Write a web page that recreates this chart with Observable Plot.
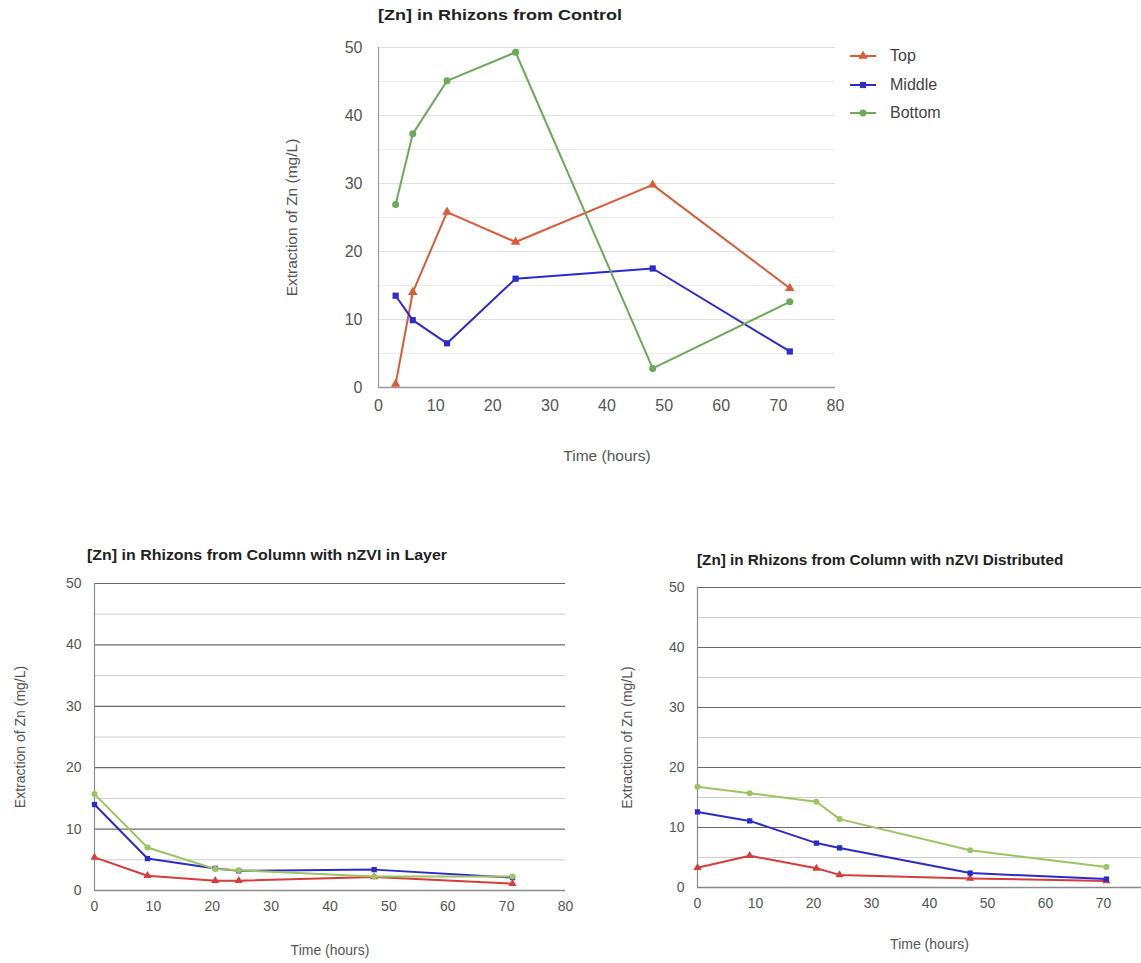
<!DOCTYPE html>
<html><head><meta charset="utf-8">
<script src="https://cdn.jsdelivr.net/npm/d3@7"></script>
<script src="https://cdn.jsdelivr.net/npm/@observablehq/plot@0.6"></script>
<style>
html,body{margin:0;padding:0;background:#fff;overflow:hidden;}
#root{position:relative;width:1141px;height:963px;overflow:hidden;font-family:"Liberation Sans",Arial,sans-serif;background:#fff;}
.panel{position:absolute;}
.title{position:absolute;font-weight:bold;color:#222;white-space:nowrap;transform-origin:0 50%;}
.legend{position:absolute;font-size:16px;color:#444;}
.legend div{height:28.5px;display:flex;align-items:center;}
.legend svg{margin-right:14px;}
</style></head><body><div id="root"></div>
<script>
const seriesNames = ["Top", "Middle", "Bottom"];
const controlTime = [3, 6, 12, 24, 48, 72];
const controlTop = [0.5, 14, 25.8, 21.4, 29.8, 14.6];
const controlMiddle = [13.5, 9.9, 6.5, 16, 17.5, 5.3];
const controlBottom = [26.9, 37.3, 45.1, 49.3, 2.8, 12.6];
const layerTime = [0, 9, 20.5, 24.5, 47.5, 71];
const layerTop = [5.4, 2.4, 1.6, 1.6, 2.2, 1.1];
const layerMiddle = [14.0, 5.2, 3.6, 3.2, 3.4, 2.1];
const layerBottom = [15.7, 7.0, 3.5, 3.3, 2.3, 2.3];
const distTime = [0, 9, 20.5, 24.5, 47, 70.5];
const distTop = [3.3, 5.3, 3.2, 2.1, 1.5, 1.1];
const distMiddle = [12.6, 11.1, 7.4, 6.6, 2.4, 1.4];
const distBottom = [16.8, 15.7, 14.3, 11.4, 6.2, 3.4];
const xTicks = [0, 10, 20, 30, 40, 50, 60, 70, 80];
const xTicksClipped = [0, 10, 20, 30, 40, 50, 60, 70];
const yTicks = [0, 10, 20, 30, 40, 50];
const yMinor = [5, 15, 25, 35, 45];
const titles = ["[Zn] in Rhizons from Control", "[Zn] in Rhizons from Column with nZVI in Layer", "[Zn] in Rhizons from Column with nZVI Distributed"];
const xLabel = "Time (hours)";
const yLabel = "Extraction of Zn (mg/L)";

function tidy(time, top, mid, bot) {
  const rows = [];
  [top, mid, bot].forEach((vals, i) => vals.forEach((v, j) => rows.push({series: seriesNames[i], t: time[j], v})));
  return rows;
}

const root = document.getElementById("root");

function panel(cfg) {
  const data = tidy(...cfg.data);
  const p = Plot.plot({
    width: cfg.width, height: cfg.height,
    marginLeft: cfg.ml, marginRight: cfg.mr, marginTop: cfg.mt, marginBottom: cfg.mb,
    style: {fontFamily: '"Liberation Sans", Arial, sans-serif', color: "#555", background: "transparent", overflow: "visible"},
    x: {domain: [0, 80]},
    y: {domain: [0, 50]},
    color: {domain: seriesNames, range: cfg.colors},
    symbol: {domain: seriesNames, range: ["triangle", "square", "circle"]},
    marks: [
      Plot.ruleY(yMinor, {stroke: cfg.minor, strokeWidth: 1}),
      Plot.ruleY(yTicks, {stroke: cfg.major, strokeWidth: cfg.majorW}),
      Plot.ruleY([0], {stroke: cfg.axis, strokeWidth: 1.5}),
      Plot.ruleX([0], {stroke: cfg.axis, strokeWidth: 1.2}),
      Plot.line(data, {x: "t", y: "v", z: "series", stroke: "series", strokeWidth: 2}),
      Plot.dot(data, {x: "t", y: "v", symbol: "series", fill: "series", r: cfg.r}),
      Plot.axisX({ticks: cfg.xticks, tickSize: 0, tickPadding: cfg.xpad, fontSize: cfg.tick, label: null}),
      Plot.axisY({ticks: yTicks, tickSize: 0, tickPadding: cfg.ypad, fontSize: cfg.tick, label: null}),
      Plot.text([xLabel], {frameAnchor: "bottom", dy: cfg.xdy, fontSize: cfg.lfs, fill: "#555"}),
      Plot.text([yLabel], {frameAnchor: "left", textAnchor: "middle", rotate: -90, dx: cfg.ydx, fontSize: cfg.lfs, fill: "#555"})
    ]
  });
  p.setAttribute("class", "panel");
  p.style.left = cfg.left + "px";
  p.style.top = cfg.top + "px";
  root.appendChild(p);
  const t = document.createElement("div");
  t.className = "title";
  t.textContent = cfg.title;
  t.style.left = cfg.tx + "px";
  t.style.top = cfg.ty + "px";
  t.style.fontSize = cfg.tfs + "px";
  t.style.transform = `scaleX(${cfg.tsx})`;
  root.appendChild(t);
}

panel({data: [controlTime, controlTop, controlMiddle, controlBottom], title: titles[0], xticks: xTicks,
  left: 280, top: 30, width: 570, height: 450, ml: 98, mr: 15, mt: 17, mb: 93,
  colors: ["#dc5a38", "#2b2bd0", "#6aaa58"], minor: "#ececec", major: "#e2e2e2", majorW: 1, axis: "#9a9a9a",
  r: 3.5, tick: 16, xpad: 12, ypad: 16, xdy: 73, ydx: -86, lfs: 15.5, tx: 378, ty: 6, tfs: 15, tsx: 1.2});

panel({data: [layerTime, layerTop, layerMiddle, layerBottom], title: titles[1], xticks: xTicks,
  left: 0, top: 570, width: 580, height: 390, ml: 94, mr: 15, mt: 13, mb: 70,
  colors: ["#d63c3c", "#2b2bc8", "#9cc462"], minor: "#cfcfcf", major: "#6a6a6a", majorW: 1.2, axis: "#8a8a8a",
  r: 3, tick: 14, xpad: 11, ypad: 13, xdy: 64, ydx: -74, lfs: 14, tx: 87, ty: 547, tfs: 14, tsx: 1.14});

panel({data: [distTime, distTop, distMiddle, distBottom], title: titles[2], xticks: xTicksClipped,
  left: 600, top: 575, width: 561, height: 385, ml: 97, mr: 0, mt: 12, mb: 73,
  colors: ["#d63c3c", "#2b2bc8", "#9cc462"], minor: "#cfcfcf", major: "#6a6a6a", majorW: 1.2, axis: "#8a8a8a",
  r: 3, tick: 14, xpad: 11, ypad: 13, xdy: 61, ydx: -70, lfs: 14, tx: 697, ty: 552, tfs: 14, tsx: 1.09});

// legend for the control panel
const lg = document.createElement("div");
lg.className = "legend";
lg.style.left = "850px";
lg.style.top = "42px";
const legendColors = ["#dc5a38", "#2b2bd0", "#6aaa58"];
const legendSymbols = [d3.symbolTriangle, d3.symbolSquare, d3.symbolCircle];
seriesNames.forEach((name, i) => {
  const row = document.createElement("div");
  const sym = d3.symbol(legendSymbols[i], 38)();
  row.innerHTML = `<svg width="26" height="10" viewBox="0 0 26 10"><line x1="0" y1="5" x2="26" y2="5" stroke="${legendColors[i]}" stroke-width="2"/><path d="${sym}" transform="translate(13,5)" fill="${legendColors[i]}"/></svg><span>${name}</span>`;
  lg.appendChild(row);
});
root.appendChild(lg);
</script></body></html>
